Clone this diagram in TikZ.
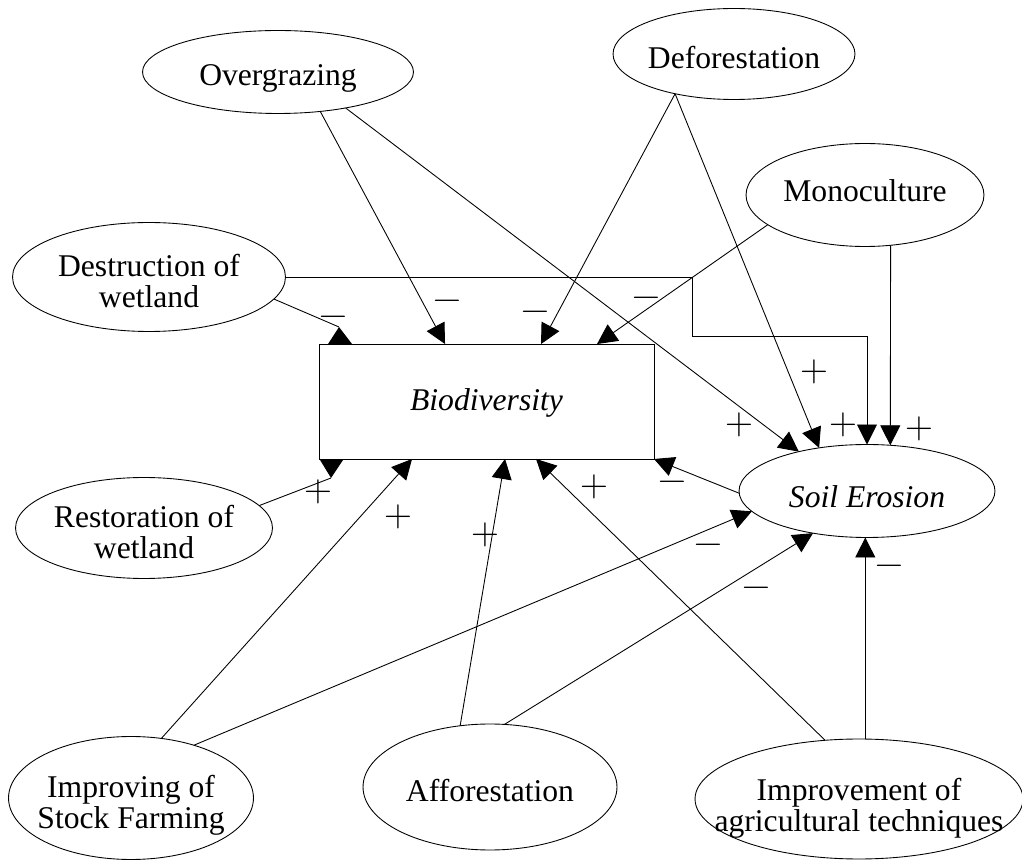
\documentclass[tikz,border=0pt]{standalone}
\usepackage{fontspec}
\setmainfont{Liberation Serif}
\usetikzlibrary{shapes.geometric,arrows.meta,calc}

\newcommand{\elltext}[2][0.16cm]{\raisebox{-#1}[\height][\depth]{\begin{tabular}{@{}c@{}}#2\end{tabular}}}

\begin{document}
\begin{tikzpicture}[x=0.02cm,y=-0.02cm,line width=0.5pt,
		factor/.style={ellipse, draw, inner sep=-100pt, outer sep=0pt, font=\fontsize{18}{17}\selectfont},
		level/.style={rectangle, draw, inner sep=0pt, outer sep=0pt, minimum width=6.7cm, minimum height=2.3cm, font=\fontsize{18}{17}\selectfont\itshape},
		sign/.style={inner sep=0pt, font=\fontfamily{lmr}\fontsize{22}{22}\selectfont},
		neg/.style={sign, yshift=-0.09cm},
		arr/.style={-{Triangle[length=0.4cm,width=0.4cm]}}]
			\useasboundingbox (0,0) rectangle (1022,861);
			
			\node[factor, minimum width=5.42cm, minimum height=1.66cm] (over) at (278,72) {\elltext{Overgrazing}};
			\node[factor, minimum width=4.84cm, minimum height=1.82cm] (defo) at (734,54) {\elltext{Deforestation}};
			\node[factor, minimum width=4.76cm, minimum height=2.06cm] (mono) at (865,195) {\elltext[0cm]{Monoculture}};
			\node[factor, minimum width=5.46cm, minimum height=2.18cm] (dest) at (149,277) {\elltext{Destruction of\\wetland}};
			\node[factor, minimum width=5.14cm, minimum height=2.02cm] (rest) at (144,528) {\elltext{Restoration of\\wetland}};
			\node[factor, minimum width=4.90cm, minimum height=2.46cm] (stock) at (131,798) {\elltext{Improving of\\Stock Farming}};
			\node[factor, minimum width=5.08cm, minimum height=2.52cm] (affo) at (490,787) {\elltext{Afforestation}};
			\node[factor, minimum width=6.56cm, minimum height=2.40cm] (impr) at (859,799) {\elltext[0.2cm]{Improvement of\\agricultural techniques}};
			\node[factor, minimum width=5.12cm, minimum height=1.86cm] (soil) at (867,491) {\elltext[0.2cm]{\itshape Soil Erosion}};
			\node[level] (bio) at (486.5,401.5) {\elltext[0.05cm]{Biodiversity}};
			
			\coordinate (dtip) at ($(bio.north west)+(20,-17)$);
			\coordinate (rtip) at ($(bio.south west)+(12,19)$);
			\coordinate (bend) at (692,336);
			
			\draw (dest.-10.5) -- (dtip);
			\fill (dtip) -- ++(-11,17) -- ++(24,0) -- cycle;
			\draw (rest.11) -- (rtip);
			\fill (rtip) -- ++(-11,-18) -- ++(23,0) -- cycle;
			\draw[arr] (over.-43.6) -- ($(bio.north west)+(126,0)$);
			\draw[arr] (defo.-146.8) -- ($(bio.north west)+(222,0)$);
			\draw[arr] (mono.-163.5) -- ($(bio.north west)+(278,0)$);
			\draw[arr] (stock.63.8) -- ($(bio.south west)+(93,0)$);
			\draw[arr] (affo.116.1) -- ($(bio.south west)+(186,0)$);
			\draw[arr] (impr.120.4) -- ($(bio.south west)+(217,0)$);
			\draw[arr] (soil.181.8) -- (bio.south east);
			
			\draw[arr] (over.-28.3) -- (soil.150.4);
			\draw[arr] (defo.-146.8) -- (soil.138.1);
			\draw[arr] (mono.-63.7) -- (soil.63.3);
			\draw[arr] (dest.east) -| (bend) -| (soil.north);
			\draw[arr] (stock.40.1) -- (soil.190.8);
			\draw[arr] (affo.77.5) -- (soil.218.7);
			\draw[arr] (impr.84.3) -- (impr.84.3 |- soil.south);
			
			\node[neg] (sDest) at (333,317) {−};
			\node[neg] (sOver) at (447,301) {−};
			\node[neg] (sDefo) at (535,312) {−};
			\node[neg] (sMono) at (646,298) {−};
			\node[sign] (sOverSoil) at (739,425) {+};
			\node[sign] (sDefoSoil) at (814,372) {+};
			\node[sign] (sDestSoil) at (843,425) {+};
			\node[sign] (sMonoSoil) at (919,429) {+};
			\node[sign] (sRest) at (318,492) {+};
			\node[sign] (sStock) at (398,517) {+};
			\node[sign] (sAffo) at (485,535) {+};
			\node[sign] (sImpr) at (594,487) {+};
			\node[neg] (sSoil) at (672,482) {−};
			\node[neg] (sStockSoil) at (708,545) {−};
			\node[neg] (sAffoSoil) at (756,588) {−};
			\node[neg] (sImprSoil) at (889,566) {−};
			\end{tikzpicture}
\end{document}
